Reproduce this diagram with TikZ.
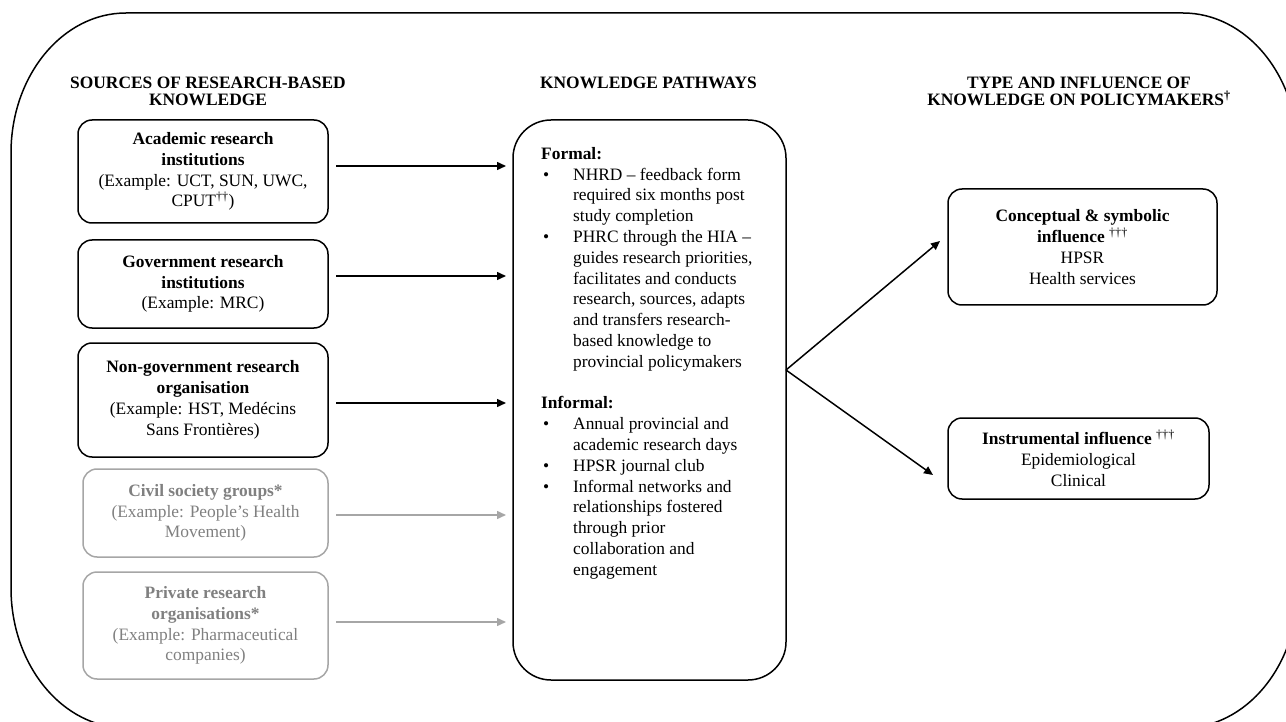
\documentclass[tikz,border=0pt]{standalone}
\usepackage{fontspec}
\setmainfont{Liberation Serif}
\usetikzlibrary{arrows.meta}
\definecolor{lgray}{HTML}{A6A6A6}
\definecolor{tgray}{HTML}{808080}
\newcommand{\bul}{\hspace*{2pt}\makebox[30pt][l]{\textbullet}}
\newcommand{\ind}{\hspace*{32pt}}
\tikzset{
  txt/.style={font=\fontsize{17.4}{20.8}\selectfont},
  hdr/.style={font=\fontsize{17.4}{17.5}\selectfont\bfseries, align=center, inner sep=0pt},
  srcbox/.style={draw, line width=1.5pt, rounded corners=14pt, align=center, inner sep=0pt, outer sep=0pt, txt},
  graybox/.style={srcbox, draw=lgray, text=tgray},
  arr/.style={line width=1.5pt, -{Triangle[length=9pt,width=8pt]}},
  grayarr/.style={arr, draw=lgray, color=lgray},
  corner/.style={x radius=115, y radius=140},
}
\begin{document}
\begin{tikzpicture}[x=1pt,y=-1pt]
\useasboundingbox (0,0) rectangle (1286,722);
\draw[line width=1.5pt]
  (11,153) arc[start angle=180, end angle=270, corner]
  -- (1183,13) arc[start angle=270, end angle=360, corner]
  -- (1298,588) arc[start angle=0, end angle=90, corner]
  -- (126,728) arc[start angle=90, end angle=180, corner]
  -- cycle;

% headers
\node[hdr] (h1) at (208,91.5) {SOURCES OF RESEARCH-BASED\\KNOWLEDGE};
\node[hdr] (h2) at (648.5,83) {KNOWLEDGE PATHWAYS};
\node[hdr] (h3) at (1079,91.5) {TYPE AND INFLUENCE OF\\KNOWLEDGE ON POLICYMAKERS\textsuperscript{†}};

% source boxes
\node[srcbox, minimum width=250pt, minimum height=103pt] (b1) at (203,171.5)
  {\textbf{Academic research}\\\textbf{institutions}\\(Example: UCT, SUN, UWC,\\CPUT\textsuperscript{††})};
\node[srcbox, minimum width=250pt, minimum height=88pt] (b2) at (203,284)
  {\textbf{Government research}\\\textbf{institutions}\\(Example: MRC)};
\node[srcbox, minimum width=250pt, minimum height=114pt] (b3) at (203,400)
  {\textbf{Non-government research}\\\textbf{organisation}\\(Example: HST, Medécins\\Sans Frontières)};
\node[graybox, minimum width=245pt, minimum height=88pt] (b4) at (205.5,513)
  {\textbf{Civil society groups*}\\(Example: People’s Health\\Movement)};
\node[graybox, minimum width=245pt, minimum height=107pt] (b5) at (205.5,625.5)
  {\textbf{Private research}\\\textbf{organisations*}\\(Example: Pharmaceutical\\companies)};

% pathways box
\node[draw, line width=1.5pt, rounded corners=38pt, minimum width=273pt, minimum height=560pt, inner sep=0pt, outer sep=0pt] (mid) at (649.5,400) {};
\node[txt, align=left, anchor=north west, inner sep=0pt] (midtxt) at (541,147)
  {\textbf{Formal:}\\
   \bul NHRD -- feedback form\\
   \ind required six months post\\
   \ind study completion\\
   \bul PHRC through the HIA --\\
   \ind guides research priorities,\\
   \ind facilitates and conducts\\
   \ind research, sources, adapts\\
   \ind and transfers research-\\
   \ind based knowledge to\\
   \ind provincial policymakers\\[20.8pt]
   \textbf{Informal:}\\
   \bul Annual provincial and\\
   \ind academic research days\\
   \bul HPSR journal club\\
   \bul Informal networks and\\
   \ind relationships fostered\\
   \ind through prior\\
   \ind collaboration and\\
   \ind engagement};

% influence boxes
\node[srcbox, minimum width=269pt, minimum height=116pt] (r1) at (1082.5,247)
  {\textbf{Conceptual \& symbolic}\\\textbf{influence} \textsuperscript{†††}\\HPSR\\Health services};
\node[srcbox, minimum width=261pt, minimum height=81pt] (r2) at (1078.5,458.5)
  {\textbf{Instrumental influence} \textsuperscript{†††}\\Epidemiological\\Clinical};

% arrows into pathways
\coordinate (e1) at (506,166);
\coordinate (e2) at (506,276);
\coordinate (e3) at (506,403);
\coordinate (e4) at (506,515);
\coordinate (e5) at (506,622);
\draw[arr] (b1.east |- e1) ++(8,0) -- (e1);
\draw[arr] (b2.east |- e2) ++(8,0) -- (e2);
\draw[arr] (b3.east |- e3) ++(8,0) -- (e3);
\draw[grayarr] (b4.east |- e4) ++(8,0) -- (e4);
\draw[grayarr] (b5.east |- e5) ++(8,0) -- (e5);

% arrows out of pathways
\coordinate (fork) at (mid.east |- 0,370);
\coordinate (t1) at (940,241);
\coordinate (t2) at (933,475);
\draw[arr] (fork) -- (t1);
\draw[arr] (fork) -- (t2);
\end{tikzpicture}
\end{document}
